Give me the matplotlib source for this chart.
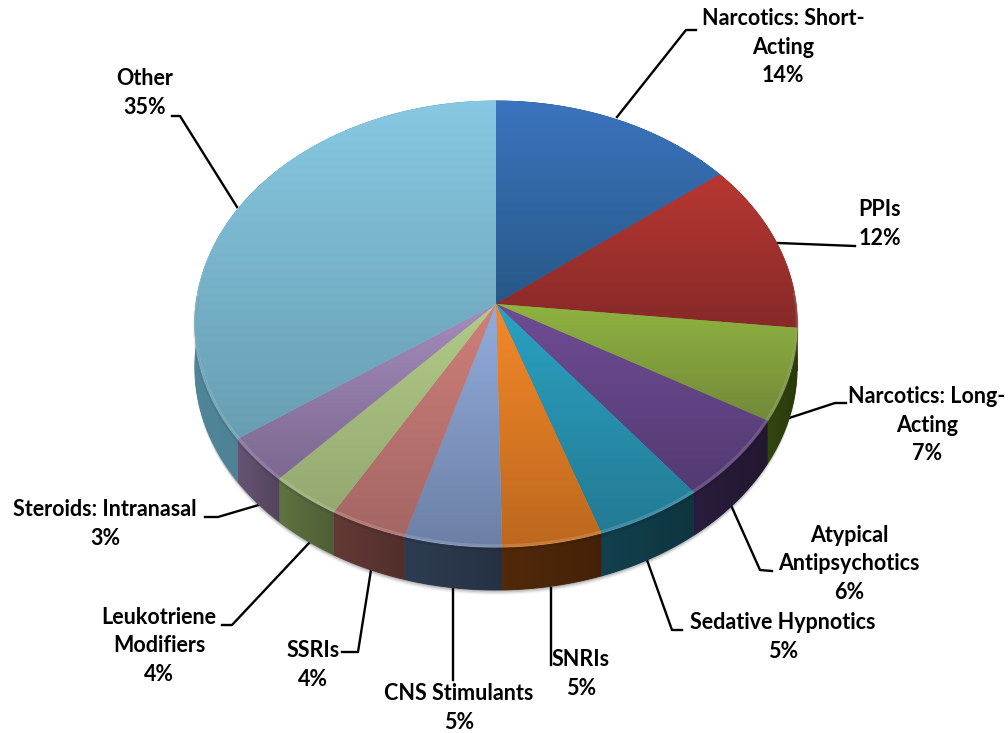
import numpy as np
import matplotlib
matplotlib.use("Agg")
import matplotlib.pyplot as plt

categories = ["Narcotics: Short-\nActing", "PPIs", "Narcotics: Long-\nActing", "Atypical\nAntipsychotics",
              "Sedative Hypnotics", "SNRIs", "CNS Stimulants", "SSRIs", "Leukotriene\nModifiers",
              "Steroids: Intranasal", "Other"]
values = [14.4, 12.3, 6.7, 6.1, 5.3, 4.9, 4.8, 3.8, 3.5, 3.4, 34.8]

face_top = ["#3B74BE", "#B83732", "#8FB340", "#6F4C94", "#2AA2C2", "#F5882A",
            "#93ACDC", "#CF7F7A", "#B2CB88", "#A48CBC", "#87C8E2"]
face_bottom = ["#285888", "#862A28", "#72893A", "#533A72", "#247A94", "#BC681E",
               "#6C80A6", "#A46664", "#94A870", "#7C6890", "#689EB2"]
side_color = ["#1F3A5C", "#5A1A18", "#33470F", "#2A1C3C", "#12404E", "#52290A",
              "#2E3C52", "#633935", "#5F7342", "#655373", "#4F8698"]

# label centre (x, y) in pixels
label_pos = [(783, 47), (880, 224), (927, 425), (849, 564), (783, 637), (581, 674),
             (459, 708), (313, 665), (159, 646), (105, 524), (145, 93)]
leaders = [[(617, 117), (686, 30), (696, 30)],
           [(778, 243), (855, 246)],
           [(783, 420), (835, 403), (846, 403)],
           [(730, 503), (760, 570), (772, 571)],
           [(647, 560), (672, 630), (682, 630)],
           [(551, 588), (551, 665)],
           [(453, 588), (453, 680)],
           [(371, 570), (358, 652), (342, 652)],
           [(310, 542), (232, 625), (222, 625)],
           [(262, 504), (218, 517), (205, 517)],
           [(237, 207), (180, 116), (172, 116)]]

cx, cy = 496, 304
a, b, k = 300, 221.2, 0.0897
depth = 43


def project(theta):
    # clockwise from the top of the pie, with some perspective
    u, v = np.sin(theta), np.cos(theta)
    w = 1 + k * v
    return cx + a * u / w, cy - b * v / w


def gradient(ax, poly, c1, c2, horizontal=False):
    ramp = np.linspace(matplotlib.colors.to_rgb(c1), matplotlib.colors.to_rgb(c2), 128)
    xs, ys = poly
    if horizontal:
        img = ramp[np.newaxis, :, :]
    else:
        img = ramp[:, np.newaxis, :]
    ax.fill(xs, ys, color=c1, lw=0.6, zorder=ax.zz)
    im = ax.imshow(img, extent=(min(xs), max(xs), max(ys), min(ys)), aspect="auto",
                   interpolation="bilinear", zorder=ax.zz + 0.1)
    clip = plt.Polygon(np.column_stack(poly), transform=ax.transData, fc="none", ec="none")
    ax.add_patch(clip)
    im.set_clip_path(clip)


fig = plt.figure(figsize=(10.08, 7.33), dpi=100)
ax = fig.add_axes([0, 0, 1, 1])
ax.axis("off")
ax.zz = 3

edges = np.cumsum([0] + values) / np.sum(values) * 2 * np.pi

# soft shadow under the pie
t = np.linspace(0, 2 * np.pi, 400)
sx, sy = project(t)
for off, al in zip([8, 6, 4, 2], [0.05, 0.07, 0.1, 0.14]):
    ax.fill(sx, sy + depth + off * 0.6, color="black", alpha=al, lw=0, zorder=1)

# walls, then the top face over them
for t1, t2, col in zip(edges[:-1], edges[1:], side_color):
    t = np.linspace(t1, t2, 80)
    x, y = project(t)
    poly = (np.r_[x, x[::-1]], np.r_[y, y[::-1] + depth])
    rgb = np.array(matplotlib.colors.to_rgb(col))
    gradient(ax, poly, col, tuple(rgb * 0.82), horizontal=True)

ax.zz = 5
for t1, t2, c1, c2 in zip(edges[:-1], edges[1:], face_top, face_bottom):
    t = np.linspace(t1, t2, 120)
    x, y = project(t)
    poly = (np.r_[cx, x], np.r_[cy, y])
    gradient(ax, poly, c1, c2)
    # bevel along the front rim
    front = np.cos(t) < 0.05
    ax.plot(x[front], y[front] - 1, color="white", alpha=0.14, lw=2.5, zorder=6,
            solid_capstyle="butt")
    ax.plot(x[front], y[front] + 2, color="black", alpha=0.08, lw=2.5, zorder=6,
            solid_capstyle="butt")

for pts in leaders:
    pts = np.array(pts)
    ax.plot(pts[:, 0], pts[:, 1], color="black", lw=1.7, zorder=2, solid_joinstyle="round")

for name, val, (lx, ly) in zip(categories, values, label_pos):
    ax.text(lx, ly, "%s\n%d%%" % (name, round(val)), ha="center", va="center", family="Lato",
            weight="bold", fontsize=15.5, linespacing=1.45, color="black", zorder=8)

ax.set_xlim(0, 1008)
ax.set_ylim(733, 0)
fig.savefig("out.png", dpi=100, facecolor="white")
